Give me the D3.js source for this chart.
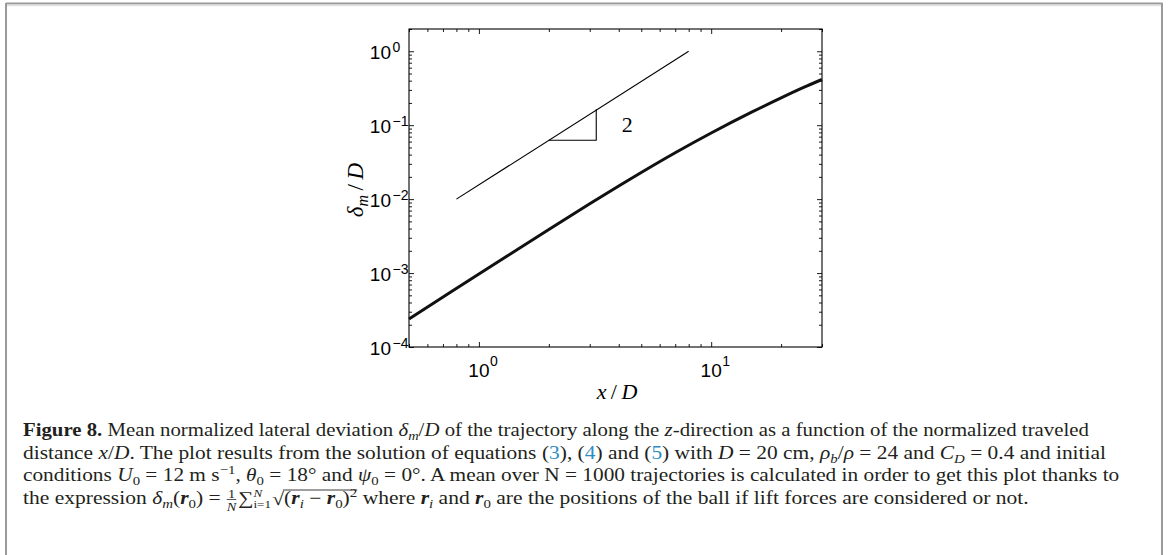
<!DOCTYPE html>
<html><head><meta charset="utf-8">
<script src="https://cdn.jsdelivr.net/npm/d3@7"></script>
<style>html,body{margin:0;padding:0;background:#fff;} svg{display:block;} text{white-space:pre;}</style>
</head><body>
<svg id="chart" width="1168" height="555"></svg>
<script>
// ---------- data ----------
const xDomain = [0.5, 30];
const yDomain = [1e-4, 2];
const xMajorTicks = [1, 10];
const xTickExponents = ["0", "1"];
const yMajorTicks = [1e-4, 1e-3, 1e-2, 1e-1, 1];
const yTickExponents = ["\u22124", "\u22123", "\u22122", "\u22121", "0"];
const xDist  = [0.5, 1, 2, 3, 4, 5, 7, 10, 15, 20, 25, 30];
const deltaM = [2.40e-4, 9.7e-4, 3.89e-3, 8.65e-3, 1.507e-2, 2.29e-2, 4.23e-2, 7.83e-2, 0.151, 0.234, 0.324, 0.415];
const slopeX = [0.8, 8];
const slopeY = [0.01, 1];
const triX = [2, 3.2, 3.2];
const triY = [0.0625, 0.0625, 0.16384];
const slopeLabel = "2";
const slopeLabelPos = [4.35, 0.082];

const captionLines = [
  [["Figure 8.","b"],[" Mean normalized lateral deviation ","n"],["\u03b4","i"],["m","isub"],["/","n"],["D","i"],[" of the trajectory along the ","n"],["z","i"],["-direction as a function of the normalized traveled","n"]],
  [["distance ","n"],["x","i"],["/","n"],["D","i"],[". The plot results from the solution of equations ","n"],["(","n"],["3","link"],["), (","n"],["4","link"],[") and (","n"],["5","link"],[") with ","n"],["D","i"],[" = 20 cm, ","n"],["\u03c1","i"],["b","isub"],["/","n"],["\u03c1","i"],[" = 24 and ","n"],["C","i"],["D","isub"],[" = 0.4 and initial","n"]],
  [["conditions ","n"],["U","i"],["0","sub"],[" = 12 m s","n"],["\u22121","sup"],[", ","n"],["\u03b8","i"],["0","sub"],[" = 18\u00b0 and ","n"],["\u03c8","i"],["0","sub"],[" = 0\u00b0. A mean over N = 1000 trajectories is calculated in order to get this plot thanks to","n"]],
  [["the expression ","n"],["\u03b4","i"],["m","isub"],["(","n"],["r","bi"],["0","sub"],[") = ","n"],["FRAC","1","N"],["SUM","N","i=1"],["SQRT",[["(","n"],["r","bi"],["i","isub"],[" \u2212 ","n"],["r","bi"],["0","sub"],[")","n"],["2","sup"]]],[" where ","n"],["r","bi"],["i","isub"],[" and ","n"],["r","bi"],["0","sub"],[" are the positions of the ball if lift forces are considered or not.","n"]]
];
const captionEnds = [1089, 1106, 1120, 1029];
const captionBaselines = [436, 458.5, 481, 504];

// ---------- frame ----------
const svg = d3.select("#chart");
svg.append("path").attr("d","M6,3.5H1162.5M6,3V555M1162,3V555").attr("fill","none").attr("stroke","#9a9a9a").attr("stroke-width",2);
svg.append("path").attr("d","M7,5.5H1161").attr("stroke","#e2e2e2").attr("stroke-width",1.5);

// ---------- plot ----------
const L=409, R=822, T=29, B=347;
const x = d3.scaleLog().domain(xDomain).range([L, R]);
const y = d3.scaleLog().domain(yDomain).range([B, T]);

function minorTicks(domain){
  const out=[];
  for(let e=Math.floor(Math.log10(domain[0])); e<=Math.ceil(Math.log10(domain[1])); e++){
    for(let m=2;m<=9;m++){ const v=m*Math.pow(10,e); if(v>=domain[0]-1e-12 && v<=domain[1]+1e-12) out.push(v); }
  }
  return out;
}
const axG = svg.append("g").attr("class","axes");
function addAxis(gen, tr, values, size){
  const g = axG.append("g").attr("transform", tr)
    .call(gen.tickValues(values).tickSize(-size).tickSizeOuter(0).tickFormat(""));
  g.select(".domain").remove();
  g.selectAll("line").attr("stroke","#000").attr("stroke-width",0.9);
}
addAxis(d3.axisBottom(x), `translate(0,${B})`, xMajorTicks, 5);
addAxis(d3.axisBottom(x), `translate(0,${B})`, minorTicks(xDomain), 3);
addAxis(d3.axisTop(x), `translate(0,${T})`, xMajorTicks, 5);
addAxis(d3.axisTop(x), `translate(0,${T})`, minorTicks(xDomain), 3);
addAxis(d3.axisLeft(y), `translate(${L},0)`, yMajorTicks, 5);
addAxis(d3.axisLeft(y), `translate(${L},0)`, minorTicks(yDomain), 3);
addAxis(d3.axisRight(y), `translate(${R},0)`, yMajorTicks, 5);
addAxis(d3.axisRight(y), `translate(${R},0)`, minorTicks(yDomain), 3);
svg.append("rect").attr("x",L).attr("y",T).attr("width",R-L).attr("height",B-T)
  .attr("fill","none").attr("stroke","#000").attr("stroke-width",1.1);

// tick labels
const tickFont = "'Liberation Sans', Arial, sans-serif";
xMajorTicks.forEach((v,i)=>{
  svg.append("text").attr("x",x(v)).attr("y",B+30).attr("text-anchor","middle")
    .attr("font-family",tickFont).attr("font-size",19).text("10");
  svg.append("text").attr("x",x(v)+11).attr("y",B+19).attr("font-family",tickFont).attr("font-size",14).text(xTickExponents[i]);
});
yMajorTicks.forEach((v,i)=>{
  svg.append("text").attr("x",L-18).attr("y",y(v)+8).attr("text-anchor","end")
    .attr("font-family",tickFont).attr("font-size",19).text("10");
  svg.append("text").attr("x",L-16.5).attr("y",y(v)+1).attr("font-family",tickFont).attr("font-size",14).text(yTickExponents[i]);
});

// lines
const line = d3.line().x(d=>x(d[0])).y(d=>y(d[1]));
svg.append("path").datum(d3.zip(slopeX, slopeY)).attr("d",line)
  .attr("fill","none").attr("stroke","#000").attr("stroke-width",1.1);
svg.append("path").datum(d3.zip(triX, triY)).attr("d",line)
  .attr("fill","none").attr("stroke","#000").attr("stroke-width",1.1);
svg.append("path").datum(d3.zip(xDist, deltaM)).attr("d",line.curve(d3.curveCatmullRom.alpha(0.5)))
  .attr("fill","none").attr("stroke","#111").attr("stroke-width",3);
svg.append("text").attr("x",x(slopeLabelPos[0])).attr("y",y(slopeLabelPos[1])).attr("text-anchor","middle")
  .attr("font-family","'Liberation Serif', serif").attr("font-size",22).text(slopeLabel);

// axis labels
const serif = "'Liberation Serif', 'DejaVu Serif', serif";
const xl = svg.append("text").attr("x",617).attr("y",399).attr("text-anchor","middle")
  .attr("font-family",serif).attr("font-size",22);
xl.append("tspan").attr("font-style","italic").text("x");
xl.append("tspan").text("\u2009/\u2009");
xl.append("tspan").attr("font-style","italic").text("D");
const yl = svg.append("text").attr("transform","translate(363,190) rotate(-90)").attr("text-anchor","middle")
  .attr("font-family",serif).attr("font-size",23);
yl.append("tspan").attr("font-style","italic").text("\u03b4");
yl.append("tspan").attr("font-style","italic").attr("font-size",16).attr("dy",5).text("m");
yl.append("tspan").attr("dy",-5).text("\u2009/\u2009");
yl.append("tspan").attr("font-style","italic").text("D");

// ---------- caption ----------
const capBase = {style:"normal", weight:"normal", size:18, dy:0, fill:"#231f20"};
const capStyles = {
  n:{}, b:{weight:"bold"}, i:{style:"italic"}, bi:{style:"italic",weight:"bold"},
  sub:{size:12.5, dy:4}, isub:{style:"italic", size:12.5, dy:4}, sup:{size:12.5, dy:-7},
  link:{fill:"#2b8cc4"}
};
function putText(g, xpos, ypos, txt, st, anchor, size, fstyle){
  const s = Object.assign({}, capBase, capStyles[st]||{});
  const t = g.append("text").attr("x",xpos).attr("y",ypos+s.dy)
    .attr("font-family",serif).attr("font-size",size||s.size).attr("font-style",fstyle||s.style)
    .attr("font-weight",s.weight).attr("fill",s.fill).attr("xml:space","preserve")
    .attr("text-anchor",anchor||"start").text(txt);
  return t.node().getComputedTextLength();
}
function layoutSegs(g, segs, x0){
  let xc = x0;
  segs.forEach(s=>{
    if(s[0]==="FRAC"){
      const wf = 9;
      putText(g, xc+wf/2, -6, s[1], "n", "middle", 12);
      putText(g, xc+wf/2, 7, s[2], "n", "middle", 12, "italic");
      g.append("line").attr("x1",xc+0.5).attr("x2",xc+wf-0.5).attr("y1",-4.5).attr("y2",-4.5).attr("stroke","#231f20").attr("stroke-width",0.7);
      xc += wf + 1;
    } else if(s[0]==="SUM"){
      xc += putText(g, xc, 0, "\u2211", "n");
      const w1 = putText(g, xc, -7, s[1], "n", "start", 11, "italic");
      const w2 = putText(g, xc, 4, s[2], "n", "start", 11);
      xc += Math.max(w1, w2) + 1;
    } else if(s[0]==="SQRT"){
      xc += putText(g, xc, 1, "\u221a", "n");
      const start = xc;
      xc = layoutSegs(g, s[1], xc);
      g.append("line").attr("x1",start-1).attr("x2",xc).attr("y1",-14).attr("y2",-14).attr("stroke","#231f20").attr("stroke-width",0.8);
    } else {
      xc += putText(g, xc, 0, s[0], s[1]);
    }
  });
  return xc;
}
captionLines.forEach((segs, i)=>{
  const g = svg.append("g");
  const w = layoutSegs(g, segs, 0);
  const sx = (captionEnds[i]-23)/w;
  g.attr("transform", `translate(23,${captionBaselines[i]}) scale(${sx},1)`);
});
</script>
</body></html>
